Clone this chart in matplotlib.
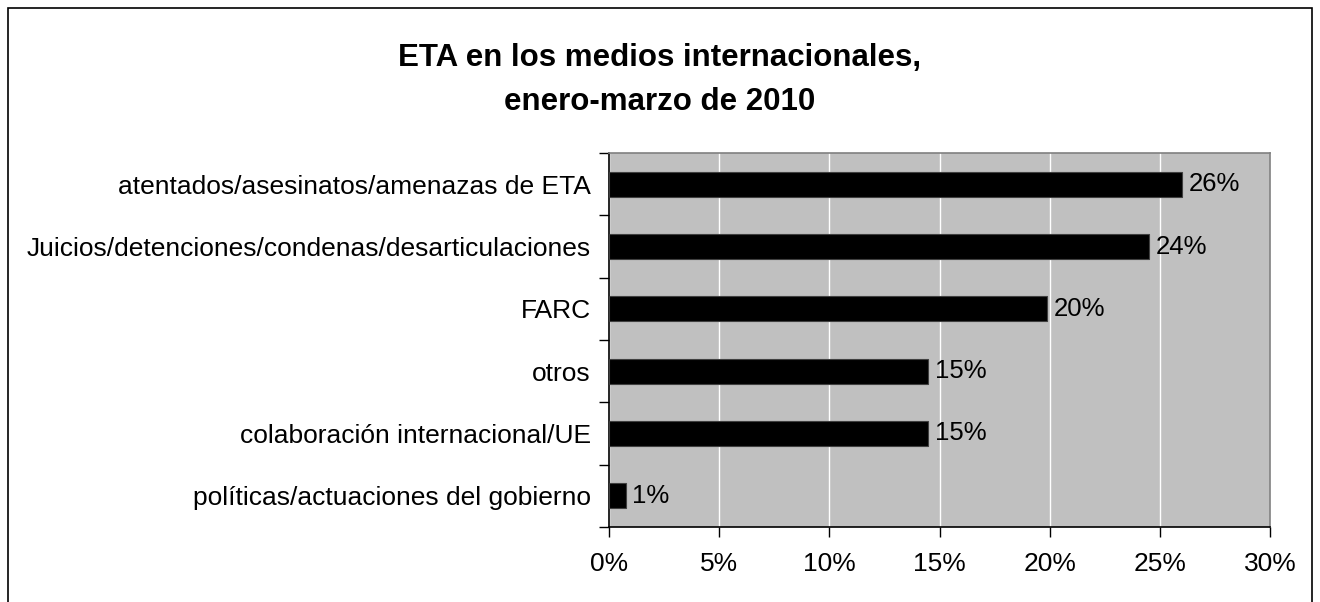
import matplotlib
matplotlib.use("Agg")
import matplotlib.pyplot as plt
from matplotlib.patches import Rectangle
from matplotlib.ticker import MultipleLocator, PercentFormatter

plt.rcParams['font.family'] = ['Liberation Sans', 'DejaVu Sans']

# datos
categorias = [
    'atentados/asesinatos/amenazas de ETA',
    'Juicios/detenciones/condenas/desarticulaciones',
    'FARC',
    'otros',
    'colaboración internacional/UE',
    'políticas/actuaciones del gobierno',
]
valores = [26.0, 24.5, 19.9, 14.5, 14.5, 0.75]
etiquetas = ['26%', '24%', '20%', '15%', '15%', '1%']
titulo = 'ETA en los medios internacionales,\nenero-marzo de 2010'

W, H = 1320, 602
fig = plt.figure(figsize=(W / 100, H / 100), dpi=100)
ax = fig.add_axes([609 / W, 1 - 527 / H, (1270 - 609) / W, (527 - 153) / H])

n = len(categorias)
pos = list(range(n))[::-1]  # primera categoria arriba
ax.barh(pos, valores, height=0.4, color='black', edgecolor='#404040', linewidth=0.8, zorder=3)
for y, v, t in zip(pos, valores, etiquetas):
    ax.text(v + 0.3, y, t, va='center', ha='left', fontsize=18.5, zorder=4)

ax.set_xlim(0, 30)
ax.set_ylim(-0.5, n - 0.5)
ax.set_facecolor('#C0C0C0')
ax.xaxis.set_major_locator(MultipleLocator(5))
ax.xaxis.set_major_formatter(PercentFormatter(decimals=0))
ax.grid(axis='x', color='white', linewidth=1, zorder=1)

# etiquetas en el centro, marcas en los limites de categoria
ax.set_yticks(pos)
ax.set_yticklabels(categorias)
ax.set_yticks([i - 0.5 for i in range(n + 1)], minor=True)
ax.tick_params(axis='y', which='major', length=0, pad=13, labelsize=19)
ax.tick_params(axis='y', which='minor', length=7, width=1, direction='out')
ax.tick_params(axis='x', length=7, width=1, direction='out', pad=11, labelsize=19)

for s in ['top', 'right']:
    ax.spines[s].set_color('#808080')
    ax.spines[s].set_linewidth(1.2)
for s in ['left', 'bottom']:
    ax.spines[s].set_color('black')
    ax.spines[s].set_linewidth(1.2)

fig.text(0.5, 1 - 80 / H, titulo, ha='center', va='center', fontsize=22.5,
         fontweight='bold', linespacing=1.6)

# marco exterior
fig.patches.append(Rectangle((8 / W, -0.05), (1312 - 8) / W, 1.05 - 8 / H,
                             transform=fig.transFigure, fill=False,
                             edgecolor='black', linewidth=1.2))

fig.savefig('out.png', dpi=100)
